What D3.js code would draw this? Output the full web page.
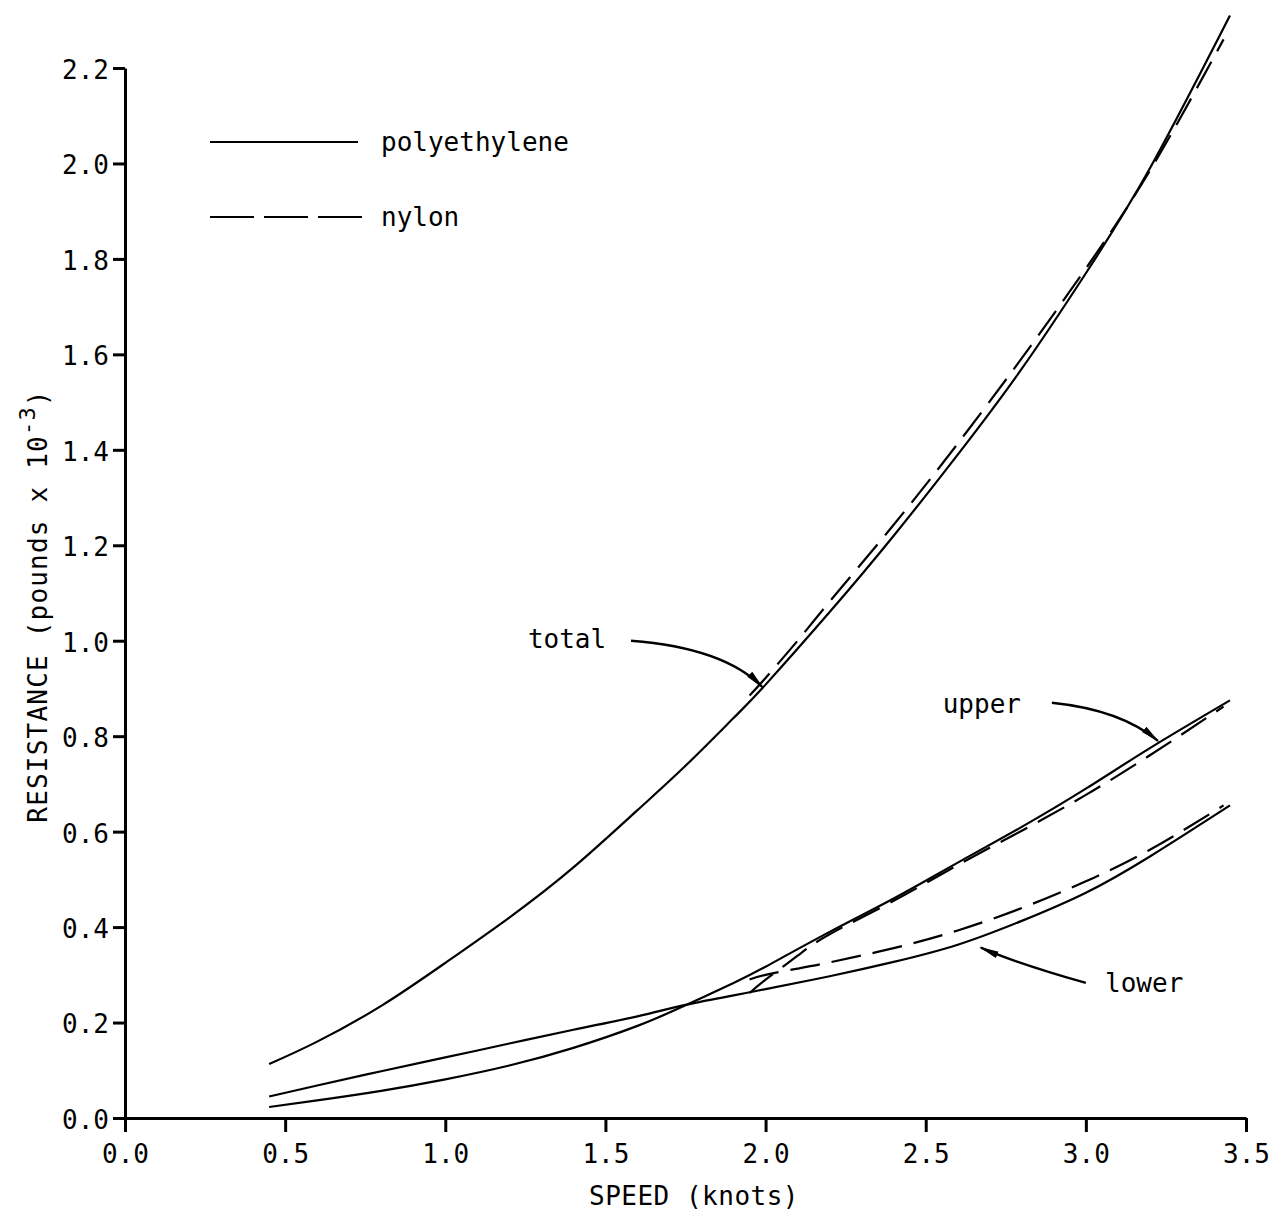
<!DOCTYPE html>
<html>
<head>
<meta charset="utf-8">
<script src="https://cdn.jsdelivr.net/npm/d3@7"></script>
<style>
  body { margin: 0; background: #fff; }
  svg text { font-family: "DejaVu Sans Mono", "Liberation Mono", monospace; fill: #000; }
</style>
</head>
<body>
<div id="chartDiv"></div>
<script>
// speed (knots) sampled along each curve
const speedPoly  = [0.45, 0.6, 0.8, 1.0, 1.2, 1.4, 1.6, 1.75, 1.9, 2.0, 2.2, 2.4, 2.6, 2.8, 3.0, 3.2, 3.45];
const speedNylon = [1.95, 2.0, 2.1, 2.2, 2.4, 2.6, 2.8, 3.0, 3.2, 3.43];

// resistance (pounds x 10^-3), polyethylene (solid)
const totalPoly = [0.113, 0.16, 0.235, 0.325, 0.42, 0.525, 0.645, 0.738, 0.838, 0.908, 1.06, 1.22, 1.39, 1.57, 1.77, 1.99, 2.31];
const upperPoly = [0.023, 0.037, 0.057, 0.081, 0.11, 0.147, 0.193, 0.236, 0.283, 0.317, 0.39, 0.46, 0.535, 0.61, 0.69, 0.775, 0.875];
const lowerPoly = [0.045, 0.068, 0.098, 0.127, 0.156, 0.185, 0.213, 0.237, 0.257, 0.27, 0.297, 0.327, 0.363, 0.413, 0.472, 0.548, 0.655];

// nylon (dashed)
const totalNylon = [0.885, 0.922, 1.0, 1.082, 1.243, 1.413, 1.592, 1.78, 1.985, 2.26];
const upperNylon = [0.262, 0.29, 0.34, 0.385, 0.455, 0.53, 0.602, 0.677, 0.76, 0.862];
const lowerNylon = [0.29, 0.3, 0.313, 0.326, 0.356, 0.393, 0.44, 0.496, 0.562, 0.655];

const xTicks = [0, 0.5, 1.0, 1.5, 2.0, 2.5, 3.0, 3.5];
const yTicks = [0, 0.2, 0.4, 0.6, 0.8, 1.0, 1.2, 1.4, 1.6, 1.8, 2.0, 2.2];

// curve labels: text anchor, arrow start, bend, tip (data units)
const callouts = [
  { text: "total", tx: 1.258, ty: 0.985, from: [1.58, 1.0], bend: [1.87, 0.985], to: [1.99, 0.903] },
  { text: "upper", tx: 2.553, ty: 0.848, from: [2.894, 0.87], bend: [3.11, 0.855], to: [3.225, 0.79] },
  { text: "lower", tx: 3.06, ty: 0.264, from: [3.0, 0.283], bend: [2.78, 0.325], to: [2.672, 0.357] }
];

const series = [
  { xs: speedPoly,  ys: totalPoly,  dashed: false },
  { xs: speedPoly,  ys: upperPoly,  dashed: false },
  { xs: speedPoly,  ys: lowerPoly,  dashed: false },
  { xs: speedNylon, ys: totalNylon, dashed: true },
  { xs: speedNylon, ys: upperNylon, dashed: true },
  { xs: speedNylon, ys: lowerNylon, dashed: true }
];

const W = 1274, H = 1211;
const svg = d3.select('#chartDiv').append('svg')
  .attr('width', W).attr('height', H)
  .style('display', 'block');
svg.append('rect').attr('width', W).attr('height', H).attr('fill', '#fff');

const x = d3.scaleLinear().domain([0, 3.5]).range([125, 1246]);
const y = d3.scaleLinear().domain([0, 2.2]).range([1118, 68]);

const fmt = d3.format('.1f');

// axes
const gx = svg.append('g')
  .attr('transform', `translate(0,${y(0)})`)
  .call(d3.axisBottom(x).tickValues(xTicks).tickFormat(fmt).tickSize(14).tickSizeOuter(0).tickPadding(13));
const gy = svg.append('g')
  .attr('transform', `translate(${x(0)},0)`)
  .call(d3.axisLeft(y).tickValues(yTicks).tickFormat(fmt).tickSize(12).tickSizeOuter(0).tickPadding(4));

[gx, gy].forEach(g => {
  g.select('.domain').attr('stroke', '#000').attr('stroke-width', 3);
  g.selectAll('.tick line').attr('stroke', '#000').attr('stroke-width', 3);
  g.selectAll('.tick text')
    .attr('font-size', 26)
    .style('font-family', '"DejaVu Sans Mono", monospace');
});
gy.selectAll('.tick text').attr('dy', '0.4em');

// axis titles
svg.append('text')
  .attr('x', 694).attr('y', 1205)
  .attr('text-anchor', 'middle')
  .attr('font-size', 26)
  .attr('letter-spacing', 0.5)
  .text('SPEED (knots)');

const yTitle = svg.append('text')
  .attr('transform', 'translate(47,606) rotate(-90)')
  .attr('text-anchor', 'middle')
  .attr('font-size', 26)
  .attr('letter-spacing', 1.2);
yTitle.append('tspan').text('RESISTANCE (pounds x 10');
yTitle.append('tspan').attr('dy', -12).attr('font-size', 22).text('-3');
yTitle.append('tspan').attr('dy', 12).text(')');

// curves
const line = d3.line()
  .x(d => x(d[0]))
  .y(d => y(d[1]))
  .curve(d3.curveNatural);

svg.append('g').selectAll('path')
  .data(series)
  .enter().append('path')
  .attr('d', s => line(s.xs.map((v, i) => [v, s.ys[i]])))
  .attr('fill', 'none')
  .attr('stroke', '#000')
  .attr('stroke-width', 2.2)
  .attr('stroke-dasharray', s => s.dashed ? '30,12' : null);

// legend
const legend = svg.append('g');
legend.append('line')
  .attr('x1', 210).attr('x2', 358).attr('y1', 142).attr('y2', 142)
  .attr('stroke', '#000').attr('stroke-width', 2.2);
legend.append('text').attr('x', 381).attr('y', 151).attr('font-size', 26).text('polyethylene');
legend.append('line')
  .attr('x1', 210).attr('x2', 362).attr('y1', 217).attr('y2', 217)
  .attr('stroke', '#000').attr('stroke-width', 2.2)
  .attr('stroke-dasharray', '44,10');
legend.append('text').attr('x', 381).attr('y', 226).attr('font-size', 26).text('nylon');

// arrow callouts
svg.append('defs').append('marker')
  .attr('id', 'head')
  .attr('viewBox', '0 -4 20 8')
  .attr('refX', 18).attr('refY', 0)
  .attr('markerWidth', 20).attr('markerHeight', 8)
  .attr('markerUnits', 'userSpaceOnUse')
  .attr('orient', 'auto')
  .append('path')
  .attr('d', 'M0,-3.5L20,0L0,3.5Z')
  .attr('fill', '#000');

const cg = svg.append('g');
callouts.forEach(c => {
  cg.append('text')
    .attr('x', x(c.tx)).attr('y', y(c.ty))
    .attr('font-size', 26)
    .text(c.text);
  const p = d3.path();
  p.moveTo(x(c.from[0]), y(c.from[1]));
  p.quadraticCurveTo(x(c.bend[0]), y(c.bend[1]), x(c.to[0]), y(c.to[1]));
  cg.append('path')
    .attr('d', p.toString())
    .attr('fill', 'none')
    .attr('stroke', '#000')
    .attr('stroke-width', 2.4)
    .attr('marker-end', 'url(#head)');
});
</script>
</body>
</html>
